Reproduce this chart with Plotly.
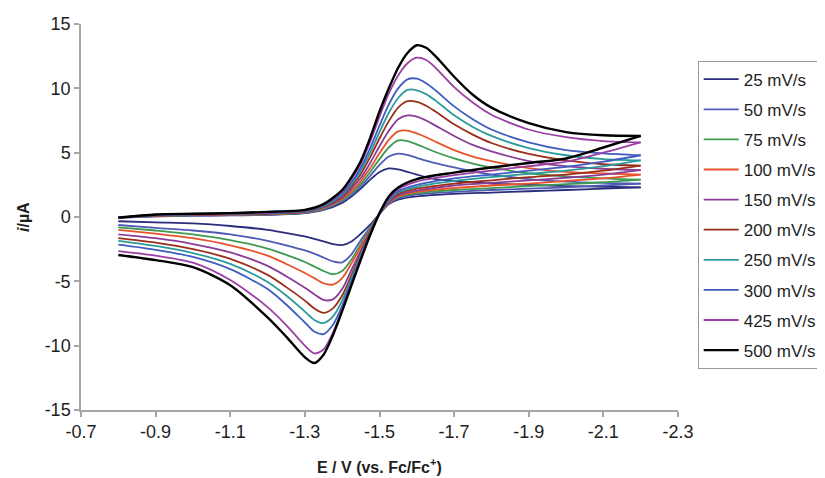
import plotly.graph_objects as go

# ---------------- data ----------------
scan_labels = ["25 mV/s", "50 mV/s", "75 mV/s", "100 mV/s", "150 mV/s",
               "200 mV/s", "250 mV/s", "300 mV/s", "425 mV/s", "500 mV/s"]
colors = ["#2B2D7C", "#4F5BB5", "#3D9A4F", "#E8532B", "#8A3C97",
          "#9A2E1A", "#2B9A9A", "#3F5CC0", "#9C3FA5", "#000000"]

# forward (cathodic) sweep potentials, V vs Fc/Fc+
E_fwd = [-0.80, -0.90, -1.00, -1.10, -1.20, -1.30, -1.35, -1.40, -1.425, -1.45,
         -1.475, -1.50, -1.525, -1.55, -1.575, -1.60, -1.625, -1.65, -1.70, -1.75,
         -1.80, -1.90, -2.00, -2.10, -2.20]
# reverse (anodic) sweep potentials
E_rev = [-2.20, -2.10, -2.00, -1.90, -1.80, -1.70, -1.60, -1.55, -1.525, -1.50,
         -1.475, -1.45, -1.425, -1.40, -1.375, -1.35, -1.325, -1.30, -1.25, -1.20,
         -1.10, -1.00, -0.90, -0.80]

# currents (uA), forward sweeps
i_fwd_25 = [-0.05, 0.05, 0.10, 0.12, 0.16, 0.30, 0.55, 1.10, 1.60, 2.20, 2.90, 3.50, 3.78, 3.70, 3.50, 3.30, 3.10, 2.95, 2.80, 2.70, 2.60, 2.50, 2.40, 2.35, 2.30]
i_fwd_50 = [-0.05, 0.06, 0.11, 0.14, 0.18, 0.32, 0.60, 1.20, 1.70, 2.40, 3.20, 4.05, 4.70, 4.93, 4.82, 4.60, 4.38, 4.18, 3.85, 3.55, 3.30, 2.95, 2.75, 2.65, 2.60]
i_fwd_75 = [-0.05, 0.08, 0.13, 0.16, 0.20, 0.35, 0.65, 1.30, 1.85, 2.60, 3.50, 4.50, 5.40, 5.95, 5.90, 5.65, 5.35, 5.05, 4.55, 4.15, 3.85, 3.40, 3.15, 3.00, 2.90]
i_fwd_100 = [-0.05, 0.10, 0.15, 0.18, 0.22, 0.38, 0.70, 1.40, 2.00, 2.80, 3.80, 4.95, 6.00, 6.65, 6.72, 6.50, 6.20, 5.85, 5.20, 4.70, 4.35, 3.80, 3.50, 3.38, 3.30]
i_fwd_150 = [-0.05, 0.12, 0.17, 0.20, 0.25, 0.40, 0.75, 1.50, 2.20, 3.05, 4.20, 5.50, 6.70, 7.60, 7.90, 7.80, 7.50, 7.10, 6.30, 5.60, 5.10, 4.35, 3.95, 3.75, 3.65]
i_fwd_200 = [-0.05, 0.13, 0.18, 0.22, 0.27, 0.42, 0.80, 1.65, 2.40, 3.35, 4.65, 6.10, 7.45, 8.50, 9.00, 8.95, 8.65, 8.20, 7.20, 6.40, 5.75, 4.90, 4.40, 4.10, 4.00]
i_fwd_250 = [-0.05, 0.15, 0.20, 0.24, 0.30, 0.45, 0.85, 1.75, 2.55, 3.60, 5.00, 6.60, 8.10, 9.25, 9.88, 9.85, 9.55, 9.05, 7.90, 7.00, 6.30, 5.35, 4.80, 4.50, 4.40]
i_fwd_300 = [-0.05, 0.16, 0.22, 0.26, 0.32, 0.48, 0.90, 1.85, 2.70, 3.85, 5.35, 7.10, 8.75, 10.00, 10.70, 10.75, 10.40, 9.85, 8.60, 7.60, 6.80, 5.80, 5.20, 4.95, 4.80]
i_fwd_425 = [-0.05, 0.18, 0.24, 0.28, 0.35, 0.52, 0.95, 2.00, 2.95, 4.15, 5.85, 7.80, 9.60, 11.00, 11.95, 12.38, 12.20, 11.60, 10.10, 8.90, 7.95, 6.80, 6.20, 5.90, 5.80]
i_fwd_500 = [-0.05, 0.20, 0.25, 0.30, 0.40, 0.55, 1.00, 2.10, 3.10, 4.35, 6.15, 8.20, 10.00, 11.60, 12.75, 13.35, 13.15, 12.50, 10.90, 9.50, 8.50, 7.30, 6.60, 6.35, 6.30]

# currents (uA), reverse sweeps
i_rev_25 = [2.30, 2.20, 2.10, 2.00, 1.90, 1.80, 1.60, 1.35, 1.00, 0.25, -0.60, -1.30, -1.90, -2.18, -2.10, -1.90, -1.70, -1.50, -1.25, -1.00, -0.70, -0.50, -0.42, -0.33]
i_rev_50 = [2.60, 2.45, 2.30, 2.20, 2.10, 1.95, 1.75, 1.45, 1.05, 0.25, -0.80, -1.80, -2.90, -3.52, -3.45, -3.15, -2.85, -2.60, -2.20, -1.85, -1.35, -1.05, -0.85, -0.62]
i_rev_75 = [2.90, 2.70, 2.55, 2.40, 2.25, 2.10, 1.85, 1.55, 1.10, 0.25, -0.90, -2.10, -3.30, -4.20, -4.45, -4.20, -3.85, -3.50, -2.95, -2.45, -1.80, -1.35, -1.05, -0.80]
i_rev_100 = [3.30, 3.00, 2.80, 2.60, 2.45, 2.25, 1.95, 1.60, 1.10, 0.25, -1.00, -2.30, -3.60, -4.75, -5.25, -5.15, -4.75, -4.35, -3.65, -3.00, -2.20, -1.65, -1.30, -1.00]
i_rev_150 = [3.65, 3.30, 3.05, 2.85, 2.65, 2.45, 2.05, 1.70, 1.15, 0.25, -1.10, -2.60, -4.10, -5.60, -6.40, -6.45, -6.00, -5.50, -4.60, -3.80, -2.75, -2.10, -1.65, -1.35]
i_rev_200 = [4.00, 3.60, 3.30, 3.10, 2.85, 2.60, 2.20, 1.80, 1.20, 0.25, -1.20, -2.80, -4.50, -6.10, -7.10, -7.45, -7.10, -6.50, -5.45, -4.50, -3.25, -2.50, -2.00, -1.65]
i_rev_250 = [4.40, 3.95, 3.60, 3.35, 3.10, 2.80, 2.35, 1.90, 1.25, 0.25, -1.25, -2.95, -4.75, -6.50, -7.75, -8.25, -8.00, -7.35, -6.10, -5.05, -3.65, -2.80, -2.25, -1.85]
i_rev_300 = [4.80, 4.30, 3.90, 3.60, 3.30, 3.00, 2.50, 2.00, 1.35, 0.25, -1.30, -3.10, -5.00, -6.90, -8.40, -9.10, -8.90, -8.20, -6.80, -5.60, -4.05, -3.10, -2.55, -2.15]
i_rev_425 = [5.80, 5.00, 4.30, 3.95, 3.60, 3.25, 2.75, 2.15, 1.45, 0.30, -1.35, -3.20, -5.20, -7.20, -9.00, -10.30, -10.60, -10.00, -8.40, -7.00, -4.90, -3.55, -3.00, -2.65]
i_rev_500 = [6.30, 5.40, 4.55, 4.20, 3.85, 3.45, 2.95, 2.30, 1.60, 0.30, -1.40, -3.30, -5.30, -7.30, -9.20, -10.70, -11.35, -10.90, -9.30, -7.80, -5.30, -3.90, -3.35, -2.95]

fwd_sets = [i_fwd_25, i_fwd_50, i_fwd_75, i_fwd_100, i_fwd_150,
            i_fwd_200, i_fwd_250, i_fwd_300, i_fwd_425, i_fwd_500]
rev_sets = [i_rev_25, i_rev_50, i_rev_75, i_rev_100, i_rev_150,
            i_rev_200, i_rev_250, i_rev_300, i_rev_425, i_rev_500]

x_tickvals = [-0.7, -0.9, -1.1, -1.3, -1.5, -1.7, -1.9, -2.1, -2.3]
x_ticktext = ["-0.7", "-0.9", "-1.1", "-1.3", "-1.5", "-1.7", "-1.9", "-2.1", "-2.3"]
y_tickvals = [-15, -10, -5, 0, 5, 10, 15]
y_ticktext = ["-15", "-10", "-5", "0", "5", "10", "15"]

x_title = "<b>E / V (vs. Fc/Fc<sup>+</sup>)</b>"
y_title = "<b><i>i</i>/µA</b>"

# ---------------- figure ----------------
# the page body keeps an 8 px margin, so the figure is 8 px smaller than the window
FONT = "Liberation Sans, Arial, sans-serif"
TXT = "#1e1e1e"
fig = go.Figure()
for k, (lab, col) in enumerate(zip(scan_labels, colors)):
    w = 2.4 if col == "#000000" else 1.8
    fig.add_trace(go.Scatter(x=E_fwd, y=fwd_sets[k], mode="lines", name=lab,
                             legendgroup=lab, showlegend=True,
                             line=dict(color=col, width=w, shape="spline", smoothing=0.8)))
    fig.add_trace(go.Scatter(x=E_rev, y=rev_sets[k], mode="lines", name=lab,
                             legendgroup=lab, showlegend=False,
                             line=dict(color=col, width=w, shape="spline", smoothing=0.8)))

axis_common = dict(showgrid=False, zeroline=False, showline=True, automargin=False,
                   linecolor="#a6a6a6", linewidth=1.5, ticks="outside",
                   ticklen=5, tickcolor="#a6a6a6", tickwidth=1.5,
                   tickfont=dict(family=FONT, size=18, color=TXT))

fig.update_xaxes(range=[-0.7, -2.3], tickvals=x_tickvals, ticktext=x_ticktext,
                 **axis_common)
fig.update_yaxes(range=[-15, 15], tickvals=y_tickvals, ticktext=y_ticktext,
                 **axis_common)

fig.add_annotation(text=x_title, xref="paper", yref="paper", x=0.5, y=0,
                   yshift=-56, xanchor="center", yanchor="middle", showarrow=False,
                   font=dict(family=FONT, size=16, color=TXT))
fig.add_annotation(text=y_title, xref="paper", yref="paper", x=0, y=0.5,
                   xshift=-58, xanchor="center", yanchor="middle", showarrow=False,
                   textangle=-90, font=dict(family=FONT, size=16, color=TXT))

fig.update_layout(
    width=817, height=470,
    margin=dict(l=73, r=147, t=16, b=68, autoexpand=False),
    paper_bgcolor="white", plot_bgcolor="white",
    font=dict(family=FONT, size=17, color=TXT),
    legend=dict(x=1.033, y=0.905, xanchor="left", yanchor="top",
                bgcolor="white", bordercolor="#999999", borderwidth=1,
                font=dict(family=FONT, size=17, color=TXT),
                tracegroupgap=5, traceorder="grouped", itemwidth=35),
    showlegend=True,
)

fig.write_html("out.html")
